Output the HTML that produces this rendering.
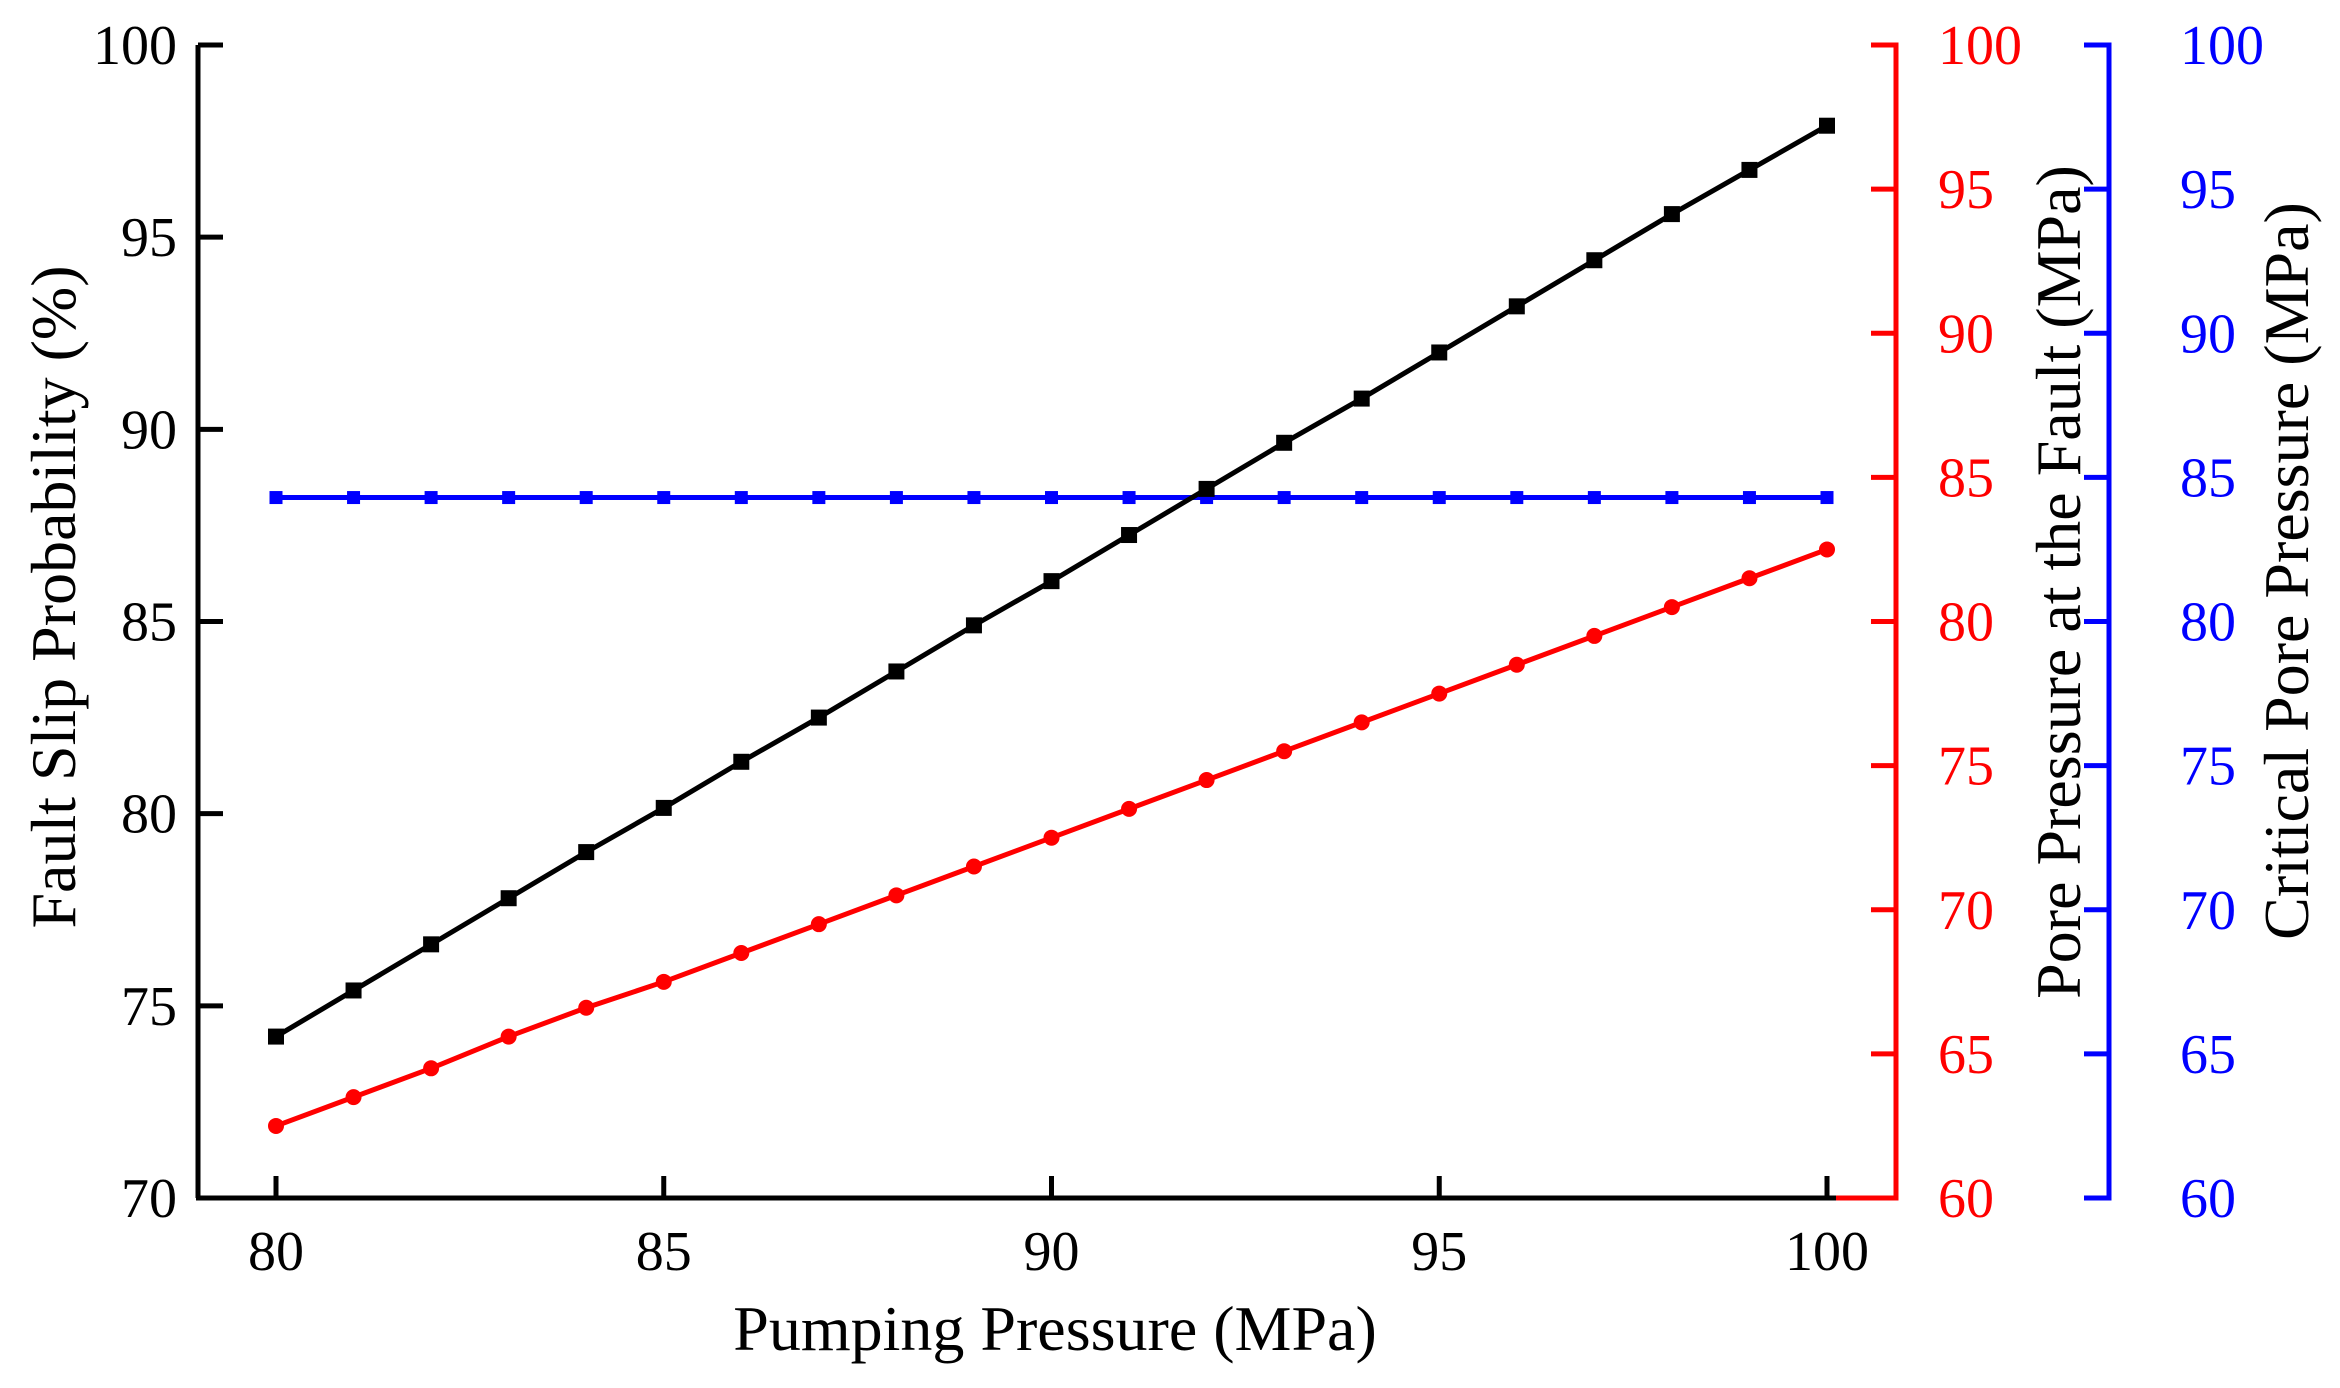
<!DOCTYPE html>
<html><head><meta charset="utf-8"><style>
body{margin:0;background:#fff}
svg text{font-family:"Liberation Serif",serif}
</style></head><body>
<svg id="c" width="2340" height="1383" xmlns="http://www.w3.org/2000/svg"></svg>
<script>
const pumping=[80,81,82,83,84,85,86,87,88,89,90,91,92,93,94,95,96,97,98,99,100];
const slipProb=[74.2,75.4,76.6,77.8,79.0,80.15,81.35,82.5,83.7,84.9,86.05,87.25,88.45,89.65,90.8,92.0,93.2,94.4,95.6,96.75,97.9];
const porePressure=[62.5,63.5,64.5,65.6,66.6,67.5,68.5,69.5,70.5,71.5,72.5,73.5,74.5,75.5,76.5,77.5,78.5,79.5,80.5,81.5,82.5];
const criticalPressure=[84.3,84.3,84.3,84.3,84.3,84.3,84.3,84.3,84.3,84.3,84.3,84.3,84.3,84.3,84.3,84.3,84.3,84.3,84.3,84.3,84.3];
const xTicks=[80,85,90,95,100];
const leftTicks=[70,75,80,85,90,95,100];
const rightTicks=[60,65,70,75,80,85,90,95,100];

const svg=document.getElementById('c');const NS='http://www.w3.org/2000/svg';
const L=198,R=1896,B2=2109,T=45,BOT=1198,X0=276,X1=1827;
const xs=v=>X0+(v-80)/20*(X1-X0);
const yl=v=>BOT-(v-70)/30*(BOT-T);
const yr=v=>BOT-(v-60)/40*(BOT-T);
function el(tag,a,txt){const e=document.createElementNS(NS,tag);for(const k in a)e.setAttribute(k,a[k]);if(txt!==undefined)e.textContent=txt;svg.appendChild(e);return e;}
let e;
e=el('line',{x1:L,y1:T,x2:L,y2:BOT,stroke:'#000','stroke-width':5});


e=el('line',{x1:L-2,y1:BOT,x2:R-60,y2:BOT,stroke:'#000','stroke-width':5});


e=el('polyline',{points:`${R-60},${BOT} ${R},${BOT} ${R},${T} ${R-25},${T}`,fill:'none',stroke:'#f00','stroke-width':5});


e=el('polyline',{points:`${B2-25},${BOT} ${B2},${BOT} ${B2},${T} ${B2-25},${T}`,fill:'none',stroke:'#00f','stroke-width':5});


xTicks.forEach(v=>{
  el('line',{x1:xs(v),y1:BOT,x2:xs(v),y2:BOT-22,stroke:'#000','stroke-width':5});
  e=el('text',{x:xs(v),y:BOT+72,'font-size':56,'text-anchor':'middle'},v);
  
  
});
leftTicks.forEach(v=>{
  el('line',{x1:L,y1:yl(v),x2:L+25,y2:yl(v),stroke:'#000','stroke-width':5});
  e=el('text',{x:177,y:yl(v)+19,'font-size':56,'text-anchor':'end'},v);
  
  
});
rightTicks.forEach(v=>{
  el('line',{x1:R,y1:yr(v),x2:R-25,y2:yr(v),stroke:'#f00','stroke-width':5});
  e=el('text',{x:1938,y:yr(v)+19,'font-size':56,fill:'#f00'},v);
  
  
  el('line',{x1:B2,y1:yr(v),x2:B2-25,y2:yr(v),stroke:'#00f','stroke-width':5});
  e=el('text',{x:2180,y:yr(v)+19,'font-size':56,fill:'#00f'},v);
  
  
});
e=el('text',{x:1055,y:1350,'font-size':64,'text-anchor':'middle'},'Pumping Pressure (MPa)');


e=el('text',{x:0,y:0,'font-size':64,'text-anchor':'middle',transform:'translate(75,597) rotate(-90)'},'Fault Slip Probability (%)');


e=el('text',{x:0,y:0,'font-size':64,'text-anchor':'middle',transform:'translate(2080,582) rotate(-90)'},'Pore Pressure at the Fault (MPa)');


e=el('text',{x:0,y:0,'font-size':64,'text-anchor':'middle',transform:'translate(2308,571) rotate(-90)'},'Critical Pore Pressure (MPa)');


function series(vals,sc,col,name,marker,sz){
  e=el('polyline',{points:pumping.map((p,i)=>xs(p)+','+sc(vals[i])).join(' '),fill:'none',stroke:col,'stroke-width':5});
  
  
  pumping.forEach((p,i)=>{
    const x=xs(p),y=sc(vals[i]);
    if(marker==='c'){e=el('circle',{cx:x,cy:y,r:sz/2,fill:col});}
    else{e=el('rect',{x:x-sz/2,y:y-sz/2,width:sz,height:sz,fill:col});}
    
    
  });
}
series(criticalPressure,yr,'#00f','critical-pressure','s',13);
series(slipProb,yl,'#000','slip-probability','s',16);
series(porePressure,yr,'#f00','pore-pressure','c',16);
</script>
</body></html>
